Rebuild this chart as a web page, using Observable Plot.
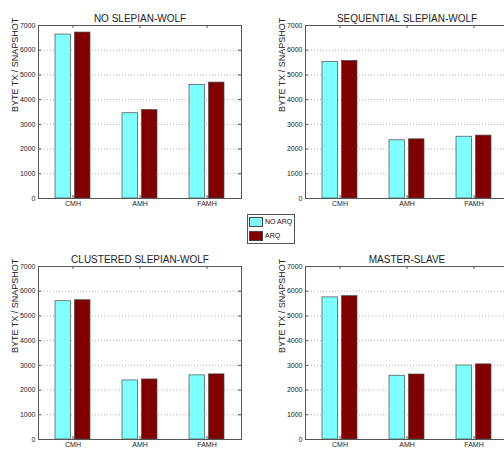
<!DOCTYPE html>
<html>
<head>
<meta charset="utf-8">
<script src="https://cdn.jsdelivr.net/npm/d3@7"></script>
<script src="https://cdn.jsdelivr.net/npm/@observablehq/plot@0.6"></script>
<style>
  html, body { margin: 0; padding: 0; background: #fff; }
  #chart { position: relative; width: 504px; height: 455px; overflow: hidden; background: #fff;
           font-family: "Liberation Sans", Arial, sans-serif; }
  .panel { position: absolute; }
  .legend { position: absolute; left: 247px; top: 214px; width: 46px; height: 28px;
            border: 1px solid #555; background: #fff; font-size: 7px; color: #111; }
  .legend .row { position: absolute; left: 1px; height: 11px; display: flex; align-items: center; }
  .legend .sw { width: 14px; height: 10px; border: 1px solid #444; box-sizing: border-box; margin-right: 2px; }
</style>
</head>
<body>
<div id="chart"></div>
<script>
// Categories, series and axis ticks
const categories = ["CMH", "AMH", "FAMH"];
const seriesNames = ["NO ARQ", "ARQ"];
const seriesColors = ["#80ffff", "#800000"];
const yTicks = [0, 1000, 2000, 3000, 4000, 5000, 6000, 7000];
const yLabel = "BYTE TX / SNAPSHOT";

// Bytes transmitted per snapshot, one array per scheme and series
const noSlepianWolfNoArq = [6635, 3450, 4595];
const noSlepianWolfArq = [6715, 3580, 4690];
const sequentialNoArq = [5530, 2355, 2500];
const sequentialArq = [5570, 2395, 2545];
const clusteredNoArq = [5595, 2390, 2595];
const clusteredArq = [5635, 2430, 2635];
const masterSlaveNoArq = [5750, 2580, 2995];
const masterSlaveArq = [5800, 2630, 3040];

const panels = [
  {title: "NO SLEPIAN-WOLF", values: [noSlepianWolfNoArq, noSlepianWolfArq], left: 0, top: 0},
  {title: "SEQUENTIAL SLEPIAN-WOLF", values: [sequentialNoArq, sequentialArq], left: 267, top: 0},
  {title: "CLUSTERED SLEPIAN-WOLF", values: [clusteredNoArq, clusteredArq], left: 0, top: 241},
  {title: "MASTER-SLAVE", values: [masterSlaveNoArq, masterSlaveArq], left: 267, top: 241}
];

const W = 252, H = 226, mL = 38, mR = 11, mT = 25, mB = 28;
const innerW = W - mL - mR, innerH = H - mT - mB;
const tickLen = 3;
const font = "Liberation Sans, Arial, sans-serif";

const chart = document.getElementById("chart");

for (const p of panels) {
  const rows = [];
  p.values.forEach((vals, s) => vals.forEach((v, i) => rows.push({cat: categories[i], series: seriesNames[s], value: v})));

  const svg = Plot.plot({
    width: W, height: H,
    marginLeft: mL, marginRight: mR, marginTop: mT, marginBottom: mB,
    style: {fontFamily: font, fontSize: "7px", background: "transparent", overflow: "visible", color: "#222"},
    x: {type: "band", domain: categories, paddingInner: 0, paddingOuter: 0, axis: null},
    y: {domain: [0, 7000], axis: null},
    color: {domain: seriesNames, range: seriesColors},
    marks: [
      Plot.gridY(yTicks.slice(1, -1), {stroke: "#9a9a9a", strokeOpacity: 1, strokeDasharray: "1,2", strokeWidth: 0.8}),
      Plot.barY(rows.filter(d => d.series === seriesNames[0]), {
        x: "cat", y: "value", fill: "series", stroke: "#4a4a4a", strokeWidth: 0.7,
        insetLeft: 16, insetRight: 35.5
      }),
      Plot.barY(rows.filter(d => d.series === seriesNames[1]), {
        x: "cat", y: "value", fill: "series", stroke: "#4a4a4a", strokeWidth: 0.7,
        insetLeft: 35.5, insetRight: 16
      }),
      // inward tick marks on all four sides
      Plot.tickY(yTicks, {y: d => d, stroke: "#555", insetRight: innerW - tickLen}),
      Plot.tickY(yTicks, {y: d => d, stroke: "#555", insetLeft: innerW - tickLen}),
      Plot.tickX(categories, {x: d => d, stroke: "#555", insetBottom: innerH - tickLen}),
      Plot.tickX(categories, {x: d => d, stroke: "#555", insetTop: innerH - tickLen}),
      Plot.frame({stroke: "#555", strokeWidth: 1}),
      Plot.axisY(yTicks, {tickSize: 0, tickPadding: 3, fontSize: 7, label: null, tickFormat: d3.format("d")}),
      Plot.axisX({tickSize: 0, tickPadding: 3, fontSize: 7, label: null}),
      Plot.text([yLabel], {frameAnchor: "left", rotate: -90, dx: -23, fontSize: 9, fill: "#222"}),
      Plot.text([p.title], {frameAnchor: "top", dy: -11, fontSize: 10, fill: "#222"})
    ]
  });
  svg.classList.add("panel");
  svg.style.left = p.left + "px";
  svg.style.top = p.top + "px";
  chart.appendChild(svg);
}

// Shared legend between the panels
const legend = document.createElement("div");
legend.className = "legend";
seriesNames.forEach((name, i) => {
  const row = document.createElement("div");
  row.className = "row";
  row.style.top = (1 + i * 14) + "px";
  const sw = document.createElement("div");
  sw.className = "sw";
  sw.style.background = seriesColors[i];
  const label = document.createElement("span");
  label.textContent = name;
  row.appendChild(sw);
  row.appendChild(label);
  legend.appendChild(row);
});
chart.appendChild(legend);
</script>
</body>
</html>
